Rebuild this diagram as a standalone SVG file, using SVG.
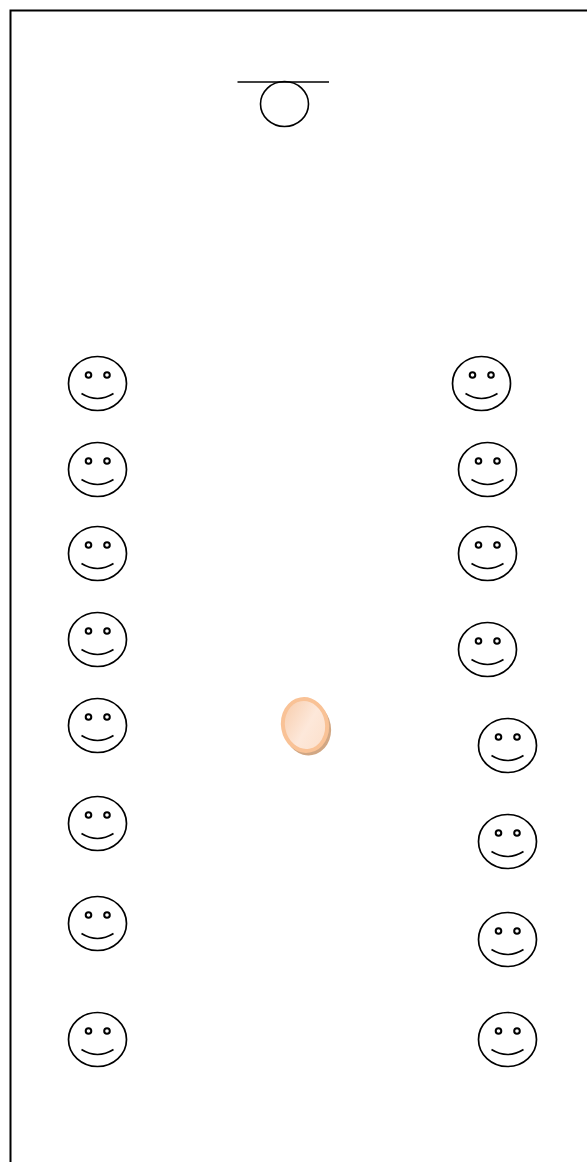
<svg xmlns="http://www.w3.org/2000/svg" width="587" height="1162" viewBox="0 0 587 1162">
<style>
.l{fill:none;stroke:#000;stroke-width:1.6}
.f{fill:none;stroke:#000;stroke-width:1.7}
.e{fill:none;stroke:#000;stroke-width:2}
</style>
<defs>
<linearGradient id="g" x1="0.1" y1="0.1" x2="0.9" y2="0.9"><stop offset="0" stop-color="#f8cfb0"/><stop offset="0.55" stop-color="#fde8da"/><stop offset="1" stop-color="#fce0cc"/></linearGradient>
<g id="s">
<ellipse class="f" cx="0" cy="0" rx="29" ry="27"/>
<circle class="e" cx="-9" cy="-8.500" r="2.800"/>
<circle class="e" cx="9.500" cy="-8.500" r="2.800"/>
<path class="f" d="M-16 10Q0 20 16 10"/>
</g>
</defs>
<rect width="587" height="1162" fill="#fff"/>
<path id="frame" d="M10.500 1162V10.500H587" fill="none" stroke="#000" stroke-width="2"/>
<g id="top"><path class="l" d="M237.500 82H329"/><ellipse class="l" cx="284.500" cy="104" rx="24" ry="22.500"/></g>
<g id="l1"><use href="#s" x="97.500" y="383.500"/></g>
<g id="l2"><use href="#s" x="97.500" y="469.500"/></g>
<g id="l3"><use href="#s" x="97.500" y="553.500"/></g>
<g id="l4"><use href="#s" x="97.500" y="639.500"/></g>
<g id="l5"><use href="#s" x="97.500" y="725.500"/></g>
<g id="l6"><use href="#s" x="97.500" y="823.500"/></g>
<g id="l7"><use href="#s" x="97.500" y="923.500"/></g>
<g id="l8"><use href="#s" x="97.500" y="1039.500"/></g>
<g id="r1"><use href="#s" x="481.500" y="383.500"/></g>
<g id="r2"><use href="#s" x="487.500" y="469.500"/></g>
<g id="r3"><use href="#s" x="487.500" y="553.500"/></g>
<g id="r4"><use href="#s" x="487.500" y="649.500"/></g>
<g id="r5"><use href="#s" x="507.500" y="745.500"/></g>
<g id="r6"><use href="#s" x="507.500" y="841.500"/></g>
<g id="r7"><use href="#s" x="507.500" y="939.500"/></g>
<g id="r8"><use href="#s" x="507.500" y="1039.500"/></g>
<g id="ball">
<ellipse cx="307.500" cy="728.500" rx="23.500" ry="27" fill="#c9986f" opacity=".85" transform="rotate(-10 307.500 728.500)"/>
<ellipse cx="305" cy="725" rx="22" ry="26" fill="url(#g)" stroke="#f9c296" stroke-width="4" transform="rotate(-10 305 725)"/>
</g>
</svg>
